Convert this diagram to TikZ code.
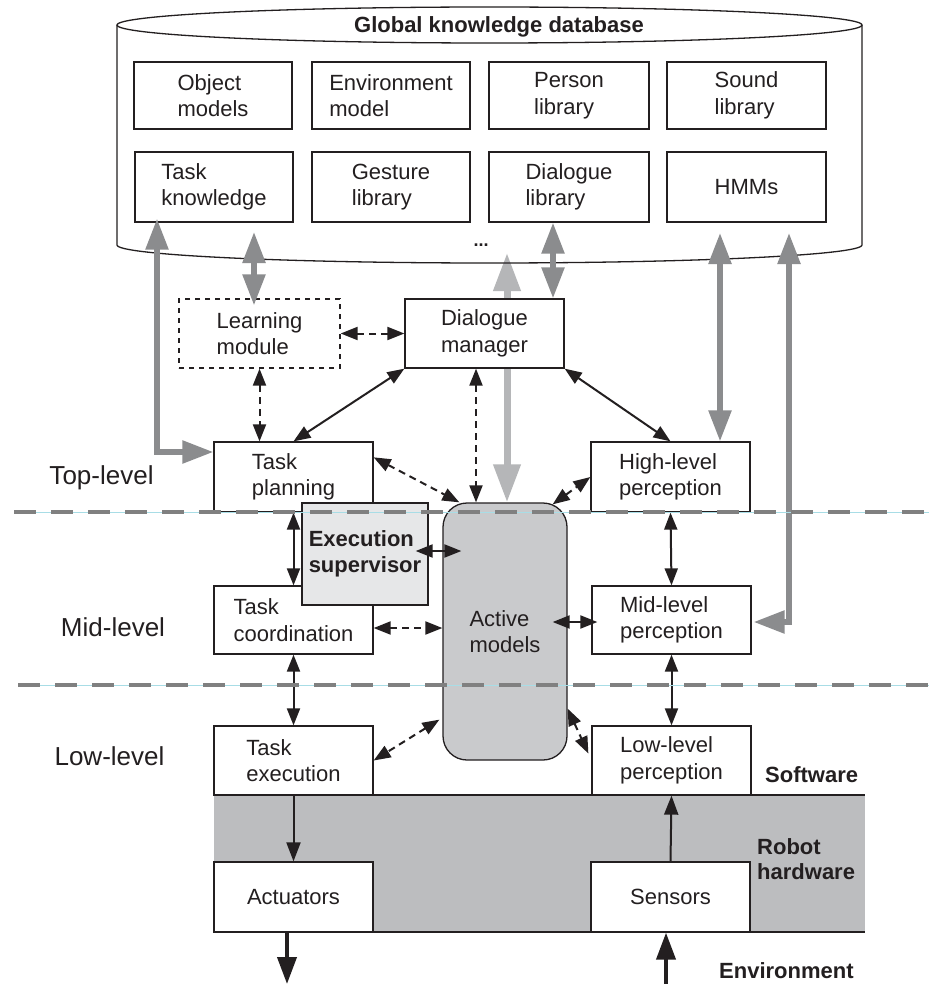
\documentclass[tikz,border=0pt]{standalone}
\usepackage{fontspec}
\setmainfont{Liberation Sans}
\usetikzlibrary{arrows.meta,calc}

\definecolor{ink}{HTML}{231F20}
\definecolor{arrowgrey}{HTML}{8B8C8E}
\definecolor{lightarrow}{HTML}{B5B6B8}
\definecolor{modelfill}{HTML}{C9CACC}
\definecolor{superfill}{HTML}{E6E7E8}
\definecolor{bandfill}{HTML}{BCBDBF}
\definecolor{levelgrey}{HTML}{808080}
\definecolor{guidecyan}{HTML}{A8DDE6}

\pgfdeclarelayer{behind}
\pgfsetlayers{behind,main}

\tikzset{
  txt/.style={text=ink, font=\fontsize{22}{26.5}\selectfont},
  box/.style={txt, draw=ink, line width=1.3pt, fill=white, inner sep=0pt, align=left,
    minimum width=159pt, minimum height=69pt},
  learnbox/.style={box, dash pattern=on 5pt off 5pt},
  modelbox/.style={box, fill=modelfill, rounded corners=24pt},
  superbox/.style={box, fill=superfill, font=\fontsize{22}{26.5}\selectfont\bfseries},
  lvl/.style={text=ink, font=\fontsize{26}{30}\selectfont},
  side/.style={text=ink, font=\fontsize{22}{25}\selectfont\bfseries, inner sep=0pt, align=left},
  cyl/.style={draw=ink, line width=1.3pt},
  twoway/.style={draw=ink, line width=2pt,
    arrows={Triangle[length=17pt,width=13pt]-Triangle[length=17pt,width=13pt]}},
  twowaydash/.style={twoway, dash pattern=on 7pt off 5pt},
  oneway/.style={draw=ink, line width=2pt, arrows={-Triangle[length=19pt,width=14pt]}},
  bigway/.style={draw=ink, line width=4pt, arrows={-Triangle[length=27pt,width=19pt]}},
  greytwo/.style={draw=arrowgrey, line width=5.5pt, line join=miter,
    arrows={Triangle[length=31pt,width=22pt]-Triangle[length=31pt,width=22pt]}},
  lighttwo/.style={draw=lightarrow, line width=7pt,
    arrows={Triangle[length=38pt,width=26pt]-Triangle[length=38pt,width=26pt]}},
  levelrule/.style={draw=levelgrey, line width=4pt, dash pattern=on 22pt off 15pt},
  guiderule/.style={draw=guidecyan, line width=0.8pt}
}

\begin{document}
\begin{tikzpicture}[x=1pt,y=-1pt]
\useasboundingbox (0,0) rectangle (929,984);
\begin{pgfonlayer}{behind}
\fill[white] (0,0) rectangle (929,984);
\end{pgfonlayer}

% knowledge database drum
\draw[cyl] (117,25) -- (117,245)
  .. controls (117,254.9) and (283.8,263) .. (489.5,263)
  .. controls (695.2,263) and (862,254.9) .. (862,245) -- (862,25);
\draw[cyl] (489.5,25) ellipse[x radius=372.5pt, y radius=18pt];
\node[txt, font=\fontsize{22}{25}\selectfont\bfseries] (dbtitle) at (499,27) {Global knowledge database};

\node[box, minimum width=158pt, minimum height=67pt] (obj) at (213,95.5) {Object\\models};
\node[box, minimum width=158pt, minimum height=67pt] (envm) at (391,95.5) {Environment\\model};
\node[box, minimum width=160pt, minimum height=67pt] (pers) at (569,95.5) {Person\\library};
\node[box, minimum width=159pt, minimum height=67pt] (snd) at (746.5,95.5) {Sound\\library};
\node[box, minimum width=158pt, minimum height=70pt] (tk) at (214,187) {Task\\knowledge};
\node[box, minimum width=158pt, minimum height=70pt] (ges) at (391,187) {Gesture\\library};
\node[box, minimum width=160pt, minimum height=70pt] (dlib) at (569,187) {Dialogue\\library};
\node[box, minimum width=159pt, minimum height=70pt] (hmm) at (746.5,187) {HMMs};
\node[txt, font=\fontsize{18}{20}\selectfont\bfseries] (dots) at (481,245) {...};

% robot hardware band
\fill[bandfill] (214,795) rectangle (865,932);
\draw[ink, line width=1.3pt] (214,795) -- (865,795);
\draw[ink, line width=1.3pt] (214,932) -- (865,932);

% software modules
\node[learnbox, minimum width=161pt] (learn) at (259.5,333.5) {Learning\\module};
\node[box] (dm) at (484.5,333.5) {Dialogue\\manager};
\node[box, minimum height=70pt] (tp) at (293.5,477) {Task\\planning};
\node[box, minimum height=70pt] (hlp) at (670.5,477) {High-level\\perception};
\node[box, minimum height=68pt] (tc) at (293.5,620) {Task\\coordination};
\node[superbox, minimum width=126pt, minimum height=102pt] (es) at (365,554) {Execution\\supervisor};
\node[modelbox, minimum width=124pt, minimum height=257pt] (am) at (505,631.5) {Active\\models};
\node[box, minimum height=68pt] (mlp) at (671.5,620) {Mid-level\\perception};
\node[box] (te) at (293.5,760.5) {Task\\execution};
\node[box] (llp) at (671.5,760.5) {Low-level\\perception};
\node[box, minimum height=70pt] (act) at (293.5,897) {Actuators};
\node[box, minimum height=70pt] (sen) at (670.5,897) {Sensors};

% level and layer labels
\node[lvl] (toplv) at (101.5,478) {Top-level};
\node[lvl] (midlv) at (113,627) {Mid-level};
\node[lvl] (lowlv) at (109.5,756) {Low-level};
\node[side, anchor=west] (swlbl) at (765,775) {Software};
\node[side, anchor=west] (hwlbl) at (757,859.5) {Robot\\hardware};
\node[side, anchor=west] (envlbl) at (719,971) {Environment};

% helper points for the knowledge links
\coordinate (tkbend) at (157,452);
\coordinate (lrtop) at (254,232);
\coordinate (lgtop) at (507,253);
\coordinate (dlx) at (553,0);
\coordinate (hmtop) at (720,233);
\coordinate (rtop) at (789,233);
\coordinate (rbend) at (789,622);
\coordinate (dmx) at (476,0);
\coordinate (actout) at (287,984);
\coordinate (envin) at (666,984);

% knowledge database links
\draw[greytwo] ($(tk.south -| tkbend)+(0,-4)$) -- (tkbend) -- (tkbend -| tp.west);
\draw[greytwo] (lrtop) -- ($(lrtop |- learn.north)+(0,7)$);
\begin{pgfonlayer}{behind}
\draw[lighttwo] (lgtop) -- (lgtop |- am.north);
\end{pgfonlayer}
\draw[greytwo] (dlib.south -| dlx) -- (dm.north -| dlx);
\draw[greytwo] (hmtop) -- (hmtop |- hlp.north);
\draw[greytwo] (rtop) -- (rbend) -- ($(rbend -| mlp.east)+(2,0)$);

% module links
\draw[twowaydash] (learn.east) -- (dm.west);
\draw[twowaydash] (learn.south) -- (learn.south |- tp.north);
\draw[twoway] (dm.south west) -- (tp.north);
\draw[twowaydash] ($(tp.north east)+(0,16)$) -- ($(am.north west)+(17,0)$);
\draw[twowaydash] (dm.south -| dmx) -- (am.north -| dmx);
\draw[twoway] (dm.south east) -- (hlp.north);
\draw[twowaydash] ($(am.north east)+(-15,2)$) -- (hlp.west);
\draw[twoway] (tp.south) -- (tc.north);
\draw[twoway] ($(es.east)+(-13,-3)$) -- ($(es.east -| am.west)+(19,-3)$);
\draw[twowaydash] ($(tc.east)+(0,8)$) -- ($(tc.east -| am.west)+(0,8)$);
\draw[twoway] ($(mlp.west -| am.east)+(-15,2)$) -- ($(mlp.west)+(6,2)$);
\draw[twoway] (hlp.south) -- (mlp.north);
\draw[twoway] (mlp.south) -- (llp.north);
\draw[twoway] (tc.south) -- (te.north);
\draw[twowaydash] ($(am.south west)+(-3,-41)$) -- (te.east);
\draw[twowaydash] ($(am.south east)+(0,-52)$) -- ($(llp.west)+(-3,-7)$);
\draw[oneway] (te.south) -- (act.north);
\draw[oneway] (sen.north) -- (llp.south);
\draw[bigway] (act.south -| actout) -- (actout);
\draw[bigway] (envin) -- (envin |- sen.south);

% level separators
\draw[guiderule] (14,512) -- (929,512);
\draw[guiderule] (18,685) -- (929,685);
\draw[levelrule] (14,512) -- (929,512);
\draw[levelrule] (18,685) -- (929,685);
\end{tikzpicture}
\end{document}
